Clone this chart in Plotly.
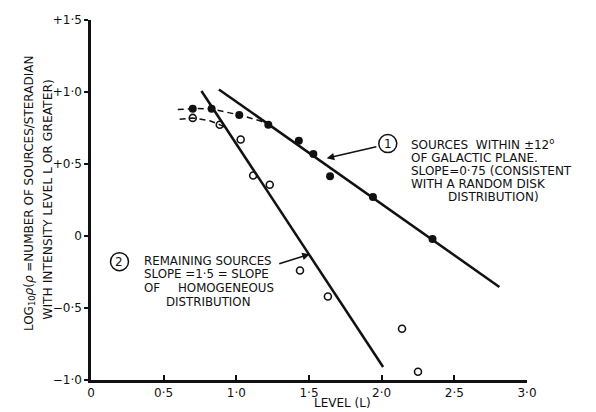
import plotly.graph_objects as go

# ---- data ----
filled_x = [0.70, 0.83, 1.02, 1.22, 1.43, 1.53, 1.645, 1.94, 2.35, 3.18]
filled_y = [0.884, 0.884, 0.84, 0.773, 0.662, 0.569, 0.415, 0.27, -0.02, -0.338]
open_x = [0.70, 0.886, 1.03, 1.116, 1.23, 1.438, 1.63, 2.14, 2.25]
open_y = [0.82, 0.773, 0.67, 0.42, 0.356, -0.24, -0.42, -0.644, -0.943]
line1_x = [0.88, 2.81]
line1_y = [1.018, -0.354]
line2_x = [0.76, 2.01]
line2_y = [1.007, -0.91]
dash1_x = [0.597, 0.714, 0.83, 1.024, 1.162, 1.208]
dash1_y = [0.878, 0.886, 0.882, 0.84, 0.80, 0.78]
dash2_x = [0.61, 0.70, 0.817, 0.886, 0.94]
dash2_y = [0.81, 0.82, 0.80, 0.773, 0.746]
x_ticks = [0, 0.5, 1.0, 1.5, 2.0, 2.5, 3.0]
x_labels = ["0", "0·5", "1·0", "1·5", "2·0", "2·5", "3·0"]
y_ticks = [-1.0, -0.5, 0, 0.5, 1.0, 1.5]
y_labels = ["−1·0", "−0·5", "0", "+0·5", "+1·0", "+1·5"]

FONT = "DejaVu Sans"
INK = "#111111"

fig = go.Figure()
fig.add_trace(go.Scatter(x=dash1_x, y=dash1_y, mode="lines",
                         line=dict(color=INK, width=1.5, dash="6px,4px")))
fig.add_trace(go.Scatter(x=dash2_x, y=dash2_y, mode="lines",
                         line=dict(color=INK, width=1.5, dash="6px,4px")))
fig.add_trace(go.Scatter(x=line1_x, y=line1_y, mode="lines",
                         line=dict(color=INK, width=2.5)))
fig.add_trace(go.Scatter(x=line2_x, y=line2_y, mode="lines",
                         line=dict(color=INK, width=2.5)))
fig.add_trace(go.Scatter(x=filled_x, y=filled_y, mode="markers", cliponaxis=False,
                         marker=dict(symbol="circle", size=8, color=INK)))
fig.add_trace(go.Scatter(x=open_x, y=open_y, mode="markers", cliponaxis=False,
                         marker=dict(symbol="circle-open", size=7, color=INK,
                                     line=dict(width=1.6, color=INK))))

ann = []
tf = dict(family=FONT, size=12, color=INK)

def txt(x, y, t, anchor="left", size=12):
    ann.append(dict(x=x, y=y, xref="x", yref="y", text=t, showarrow=False,
                    xanchor=anchor, yanchor="middle", borderpad=0,
                    font=dict(family=FONT, size=size, color=INK)))

# annotation 1
for yy, t in [(0.642, "SOURCES  WITHIN ±12<sup>o</sup>"), (0.540, "OF GALACTIC PLANE."),
              (0.451, "SLOPE=0·75 (CONSISTENT"), (0.362, "WITH A RANDOM DISK")]:
    txt(2.194, yy, t)
txt(2.449, 0.270, "DISTRIBUTION)")
# annotation 2
txt(0.355, -0.172, "REMAINING SOURCES", size=11.8)
txt(0.355, -0.266, "SLOPE =1·5 = SLOPE", size=11.8)
txt(0.355, -0.359, "OF", size=11.8)
txt(0.589, -0.359, "HOMOGENEOUS", size=11.8)
txt(0.506, -0.456, "DISTRIBUTION", size=11.8)
# circled numbers
for cx, cy, n in [(2.042, 0.642, "1"), (0.196, -0.178, "2")]:
    ann.append(dict(x=cx, y=cy, xref="x", yref="y", text=n, showarrow=False,
                    xanchor="center", yanchor="middle", font=dict(family=FONT, size=12, color=INK)))
# arrows
ann.append(dict(x=1.622, y=0.540, ax=1.974, ay=0.622, xref="x", yref="y", axref="x", ayref="y",
                text="", showarrow=True, arrowhead=2, arrowsize=1, arrowwidth=1.5, arrowcolor=INK))
ann.append(dict(x=1.505, y=-0.126, ax=1.285, ay=-0.196, xref="x", yref="y", axref="x", ayref="y",
                text="", showarrow=True, arrowhead=2, arrowsize=1, arrowwidth=1.5, arrowcolor=INK))
# axis titles (paper coordinates)
ann.append(dict(x=0.577, y=-0.063, xref="paper", yref="paper", text="LEVEL (L)", showarrow=False,
                xanchor="center", yanchor="middle", font=dict(family=FONT, size=12, color=INK)))
ann.append(dict(x=-0.140, y=0.519, xref="paper", yref="paper", textangle=-90, showarrow=False,
                text="LOG<sub>10</sub><i>ρ</i>(<i>ρ</i> =NUMBER OF SOURCES/STERADIAN",
                xanchor="center", yanchor="middle", font=dict(family=FONT, size=12, color=INK)))
ann.append(dict(x=-0.099, y=0.503, xref="paper", yref="paper", textangle=-90, showarrow=False,
                text="WITH INTENSITY LEVEL L OR GREATER)",
                xanchor="center", yanchor="middle", font=dict(family=FONT, size=12.3, color=INK)))

shapes = []
for cx, cy in [(2.042, 0.642), (0.196, -0.178)]:
    shapes.append(dict(type="circle", xref="x", yref="y", xsizemode="pixel", ysizemode="pixel",
                       xanchor=cx, yanchor=cy, x0=-9, x1=9, y0=-9, y1=9,
                       line=dict(color=INK, width=1.5)))

# page body has an 8px default margin, so the layout margins are shifted by 8px
fig.update_layout(
    width=596, height=412, showlegend=False,
    margin=dict(l=83, r=77, t=5, b=40),
    paper_bgcolor="white", plot_bgcolor="white",
    annotations=ann, shapes=shapes,
    xaxis=dict(range=[0, 3.0], tickvals=x_ticks, ticktext=x_labels, showgrid=False, zeroline=False,
               showline=True, linecolor=INK, linewidth=2.5, ticks="inside", ticklen=5,
               tickwidth=1.5, tickcolor=INK, ticklabeloverflow="allow",
               tickfont=dict(family=FONT, size=12, color=INK)),
    yaxis=dict(range=[-1.0, 1.5], tickvals=y_ticks, ticktext=y_labels, showgrid=False, zeroline=False,
               showline=True, linecolor=INK, linewidth=2.5, ticks="outside", ticklen=4,
               tickwidth=1.5, tickcolor=INK, ticklabeloverflow="allow",
               tickfont=dict(family=FONT, size=12, color=INK)),
)
fig.write_html("out.html")
